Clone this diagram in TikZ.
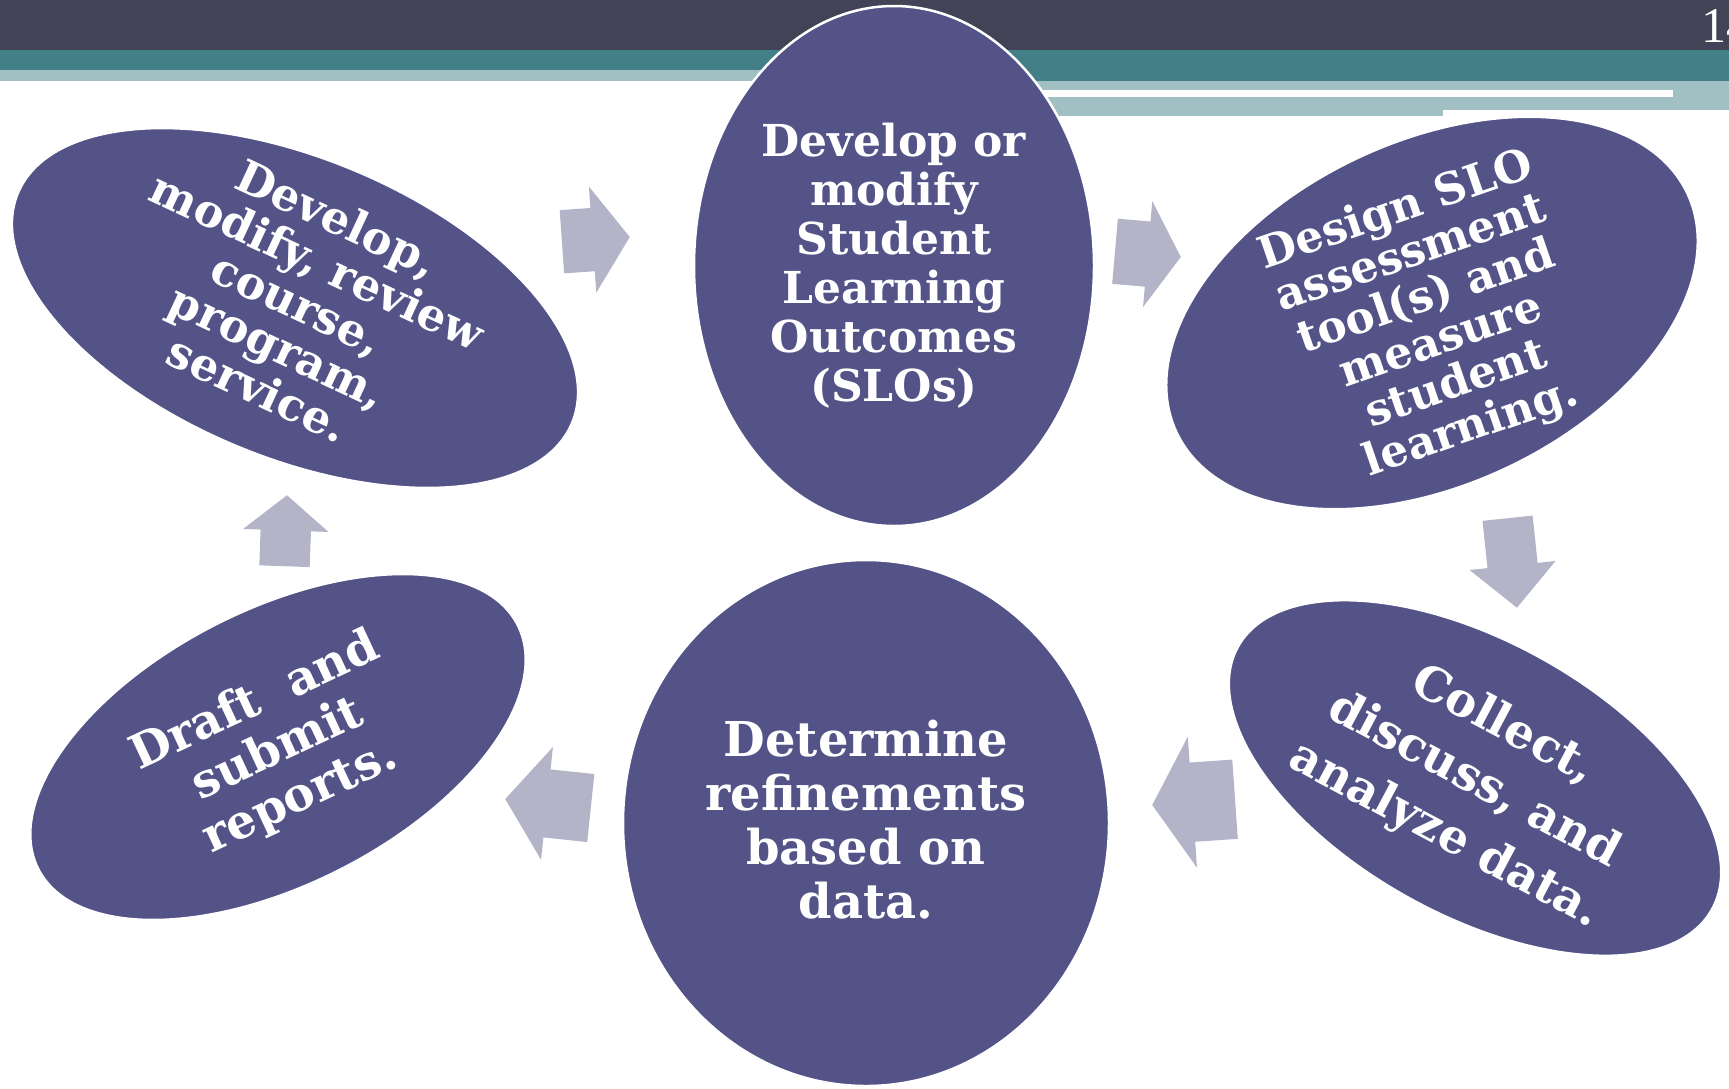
\documentclass[tikz,border=0pt]{standalone}
\usepackage{fontspec}
\usepackage{tikz}
\usetikzlibrary{shapes.geometric,shapes.arrows}

\newfontfamily\slofont{DejaVu Serif}
\newfontfamily\numfont{Liberation Serif}

\definecolor{bandDark}{HTML}{424356}
\definecolor{bandTeal}{HTML}{437F86}
\definecolor{bandLight}{HTML}{A1C0C3}
\definecolor{bubbleFill}{HTML}{535388}
\definecolor{arrowFill}{HTML}{B4B4C8}

\tikzset{
    bubble/.style={ellipse, fill=bubbleFill, draw=white, line width=2.5pt, inner sep=0pt},
    bubbletext/.style 2 args={text=white, align=center, inner sep=0pt, font=\slofont\bfseries\fontsize{#1}{#2}\selectfont},
    blockarrow/.style={single arrow, fill=arrowFill, draw=none, inner xsep=0pt, single arrow head indent=0pt, anchor=tip},
}

\begin{document}
\begin{tikzpicture}[x=1pt,y=1pt,yscale=-1,xscale=1]
        \useasboundingbox (0,0) rectangle (1729,1088);

        %Shape: Bands
        \fill[bandDark] (0,0) rectangle (1729,50);
        \fill[bandTeal] (0,50) rectangle (1729,81);
        \fill[bandLight] (0,70) rectangle (894,81);
        \fill[bandLight] (950,81) rectangle (1443,116);
        \fill[bandLight] (1443,81) rectangle (1729,110);
        \fill[white] (1000,90) rectangle (1673,97);

        % Page Number
        \node[anchor=base west, inner sep=0pt, text=white, font=\numfont\fontsize{50}{50}\selectfont] (pg) at (1701,42) {14};

        %Shape: Ellipses
        \node[bubble, minimum width=600, minimum height=300, rotate=-22.5] (dev) at (295,308) {};
        \node[bubble, minimum width=400, minimum height=520] (slo) at (894,266) {};
        \node[bubble, minimum width=564, minimum height=344, rotate=25] (tool) at (1432,313) {};
        \node[bubble, minimum width=542, minimum height=274, rotate=-29] (data) at (1475,778) {};
        \node[bubble, minimum width=486, minimum height=526] (refine) at (866,823) {};
        \node[bubble, minimum width=538, minimum height=275, rotate=27] (report) at (278,747) {};

        %Shape: Block Arrows
        \node[blockarrow, minimum height=68, minimum width=106, inner ysep=31.5, single arrow head extend=21.5, single arrow tip angle=110, rotate=4] (a1) at (630,237) {};
        \node[blockarrow, minimum height=66, minimum width=106, inner ysep=32.5, single arrow head extend=20.5, single arrow tip angle=116, rotate=-5] (a2) at (1181,257) {};
        \node[blockarrow, minimum height=90, minimum width=86, inner ysep=25, single arrow head extend=18, single arrow tip angle=91, rotate=-84] (a3) at (1517,608) {};
        \node[blockarrow, minimum height=83, minimum width=131, inner ysep=39.5, single arrow head extend=26, single arrow tip angle=117, rotate=184] (a4) at (1152,805) {};
        \node[blockarrow, minimum height=86, minimum width=113, inner ysep=34, single arrow head extend=22.5, single arrow tip angle=107, rotate=174] (a5) at (505,799) {};
        \node[blockarrow, minimum height=71, minimum width=85, inner ysep=25, single arrow head extend=17.5, single arrow tip angle=101, rotate=88] (a6) at (287,495) {};

        % Text Node
        \node[bubbletext={45}{47}, rotate=-25] (devtext) at ([shift={(3,-5)}]dev.center) {Develop,\\modify, review\\course,\\program,\\service.};
        % Text Node
        \node[bubbletext={44}{49}] (slotext) at (slo.center) {Develop or\\modify\\Student\\Learning\\Outcomes\\(SLOs)};
        % Text Node
        \node[bubbletext={44}{46}, rotate=19] (tooltext) at ([shift={(2,7)}]tool.center) {Design SLO\\assessment\\tool(s) and\\measure\\student\\learning.};
        % Text Node
        \node[bubbletext={47}{62}, rotate=-28] (datatext) at ([shift={(-1,3)}]data.center) {Collect,\\discuss, and\\analyze data.};
        % Text Node
        \node[bubbletext={48}{54}] (refinetext) at ([yshift=-3]refine.center) {Determine\\refinements\\based on\\data.};
        % Text Node
        \node[bubbletext={47}{53}, rotate=25] (reporttext) at ([yshift=3]report.center) {Draft\ \ and\\submit\\reports.};

\end{tikzpicture}
\end{document}
